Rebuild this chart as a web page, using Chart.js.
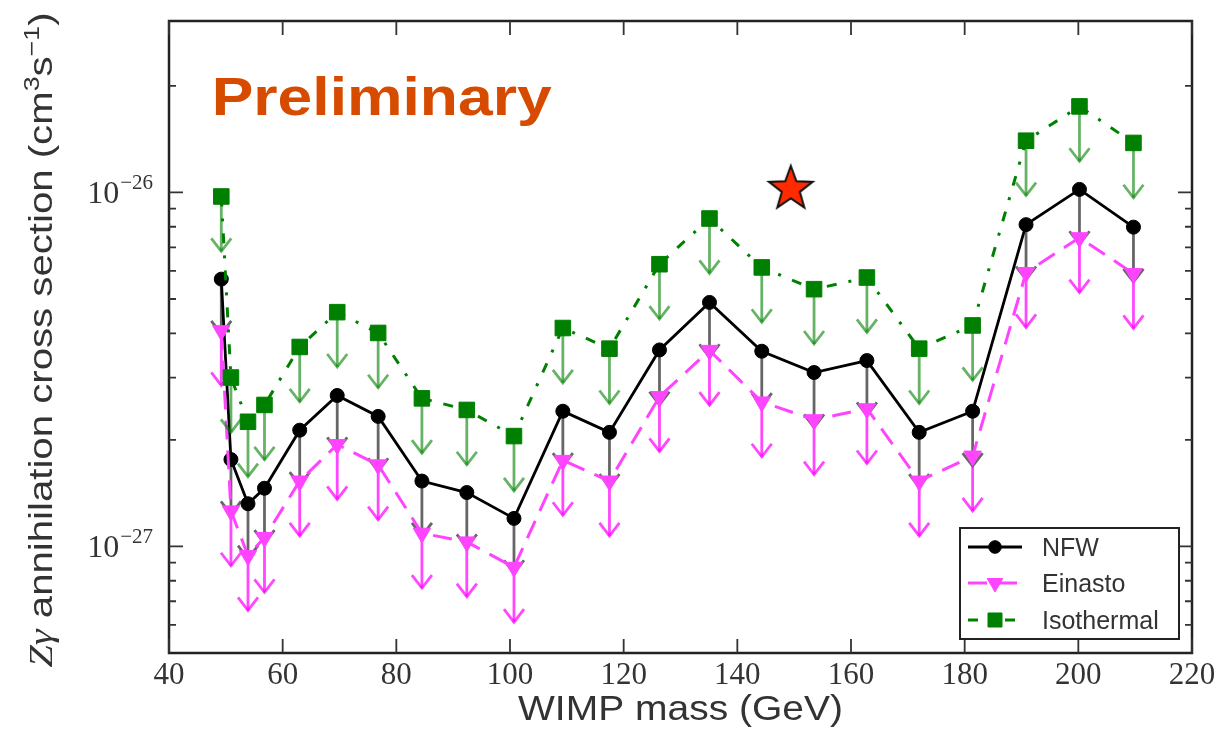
<!DOCTYPE html>
<html>
<head>
<meta charset="utf-8">
<script src="https://cdn.jsdelivr.net/npm/chart.js@4.4.0/dist/chart.umd.min.js"></script>
<style>
  html, body { margin: 0; padding: 0; background: #fff; }
  #wrap { width: 1214px; height: 732px; }
</style>
</head>
<body>
<div id="wrap"><canvas id="c" width="1214" height="732"></canvas></div>
<script>
// podaci ocitani sa slike
const mase = [49.2, 50.9, 53.9, 56.8, 63.0, 69.6, 76.8, 84.5, 92.4, 100.7, 109.3, 117.5,
  126.3, 135.1, 144.3, 153.5, 162.8, 172.0, 181.4, 190.8, 200.2, 209.7];
const nfw = [5.69e-27, 1.76e-27, 1.32e-27, 1.46e-27, 2.13e-27, 2.67e-27, 2.33e-27, 1.53e-27,
  1.42e-27, 1.20e-27, 2.41e-27, 2.10e-27, 3.59e-27, 4.89e-27, 3.56e-27, 3.10e-27, 3.35e-27,
  2.10e-27, 2.41e-27, 8.11e-27, 1.02e-26, 7.98e-27];
const einasto = [4.07e-27, 1.26e-27, 9.42e-28, 1.06e-27, 1.53e-27, 1.94e-27, 1.70e-27, 1.09e-27,
  1.03e-27, 8.73e-28, 1.75e-27, 1.53e-27, 2.65e-27, 3.58e-27, 2.56e-27, 2.28e-27, 2.45e-27,
  1.53e-27, 1.80e-27, 5.94e-27, 7.45e-27, 5.90e-27];
const isothermal = [9.74e-27, 3.00e-27, 2.25e-27, 2.51e-27, 3.66e-27, 4.59e-27, 4.01e-27, 2.62e-27,
  2.43e-27, 2.05e-27, 4.14e-27, 3.62e-27, 6.27e-27, 8.44e-27, 6.14e-27, 5.33e-27, 5.75e-27,
  3.62e-27, 4.21e-27, 1.40e-26, 1.75e-26, 1.38e-26];
const zvijezda = [{ x: 149.4, y: 1.03e-26 }];

// oznake osi
const xTicks = [40, 60, 80, 100, 120, 140, 160, 180, 200, 220];
const yMajor = [1e-27, 1e-26];
const yMajorExp = ["\u221227", "\u221226"];
const yMinor = [6e-28, 7e-28, 8e-28, 9e-28, 2e-27, 3e-27, 4e-27, 5e-27, 6e-27, 7e-27, 8e-27, 9e-27, 2e-26];

const SANS = "'Liberation Sans', Arial, sans-serif";
const SERIF = "'Liberation Serif', 'DejaVu Serif', serif";
const FAKTOR_STRELICE = 0.7; // duzina strelice gornje granice

function tacke(vrijednosti) {
  return mase.map((m, i) => ({ x: m, y: vrijednosti[i] }));
}

// zvijezda kao slika za pointStyle
let zv = document.createElement("canvas");
zv.width = 52; zv.height = 52;
(function () {
  let c = zv.getContext("2d");
  c.beginPath();
  for (let k = 0; k < 10; k++) {
    let r = k % 2 === 0 ? 23 : 9.5;
    let a = -Math.PI / 2 + k * Math.PI / 5;
    let px = 26 + r * Math.cos(a), py = 27 + r * Math.sin(a);
    if (k === 0) c.moveTo(px, py); else c.lineTo(px, py);
  }
  c.closePath();
  c.fillStyle = "#ff2a00";
  c.fill();
  c.lineWidth = 2;
  c.strokeStyle = "#111";
  c.stroke();
})();

function strelica(ctx, x, y1, y2) {
  ctx.beginPath();
  ctx.moveTo(x, y1);
  ctx.lineTo(x, y2);
  ctx.stroke();
  ctx.beginPath();
  ctx.moveTo(x - 10, y2 - 13);
  ctx.lineTo(x, y2);
  ctx.lineTo(x + 10, y2 - 13);
  ctx.stroke();
}

function tekstRastegnut(ctx, tekst, x, y, sirina, poravnanje) {
  let w = ctx.measureText(tekst).width;
  let s = sirina / w;
  ctx.save();
  ctx.translate(x, y);
  ctx.scale(s, 1);
  ctx.textAlign = poravnanje;
  ctx.fillText(tekst, 0, 0);
  ctx.restore();
}

const dodaci = {
  id: "dodaci",
  beforeDatasetDraw(chart, args) {
    let ds = chart.data.datasets[args.index];
    if (!ds.strelica) return;
    let ctx = chart.ctx, a = chart.chartArea, y = chart.scales.y;
    ctx.save();
    ctx.beginPath();
    ctx.rect(a.left, a.top, a.right - a.left, a.bottom - a.top);
    ctx.clip();
    ctx.strokeStyle = ds.strelica;
    ctx.lineWidth = 2.8;
    ctx.setLineDash([]);
    args.meta.data.forEach((el, i) => {
      let y2 = y.getPixelForValue(ds.data[i].y * FAKTOR_STRELICE);
      strelica(ctx, el.x, el.y, y2);
    });
    ctx.restore();
  },
  afterDraw(chart) {
    let ctx = chart.ctx, a = chart.chartArea;
    let xs = chart.scales.x, ys = chart.scales.y;
    ctx.save();
    ctx.setLineDash([]);

    // okvir
    ctx.strokeStyle = "#222";
    ctx.lineWidth = 2.5;
    ctx.strokeRect(a.left, a.top, a.right - a.left, a.bottom - a.top);

    // crtice prema unutra
    ctx.lineWidth = 1.8;
    ctx.strokeStyle = "#333";
    ctx.beginPath();
    xTicks.forEach((t) => {
      let px = xs.getPixelForValue(t);
      ctx.moveTo(px, a.bottom); ctx.lineTo(px, a.bottom - 14);
      ctx.moveTo(px, a.top); ctx.lineTo(px, a.top + 14);
    });
    yMajor.forEach((t) => {
      let py = ys.getPixelForValue(t);
      ctx.moveTo(a.left, py); ctx.lineTo(a.left + 14, py);
      ctx.moveTo(a.right, py); ctx.lineTo(a.right - 14, py);
    });
    yMinor.forEach((t) => {
      let py = ys.getPixelForValue(t);
      ctx.moveTo(a.left, py); ctx.lineTo(a.left + 7, py);
      ctx.moveTo(a.right, py); ctx.lineTo(a.right - 7, py);
    });
    ctx.stroke();

    // oznake x osi
    ctx.fillStyle = "#333";
    ctx.font = "31px " + SERIF;
    ctx.textAlign = "center";
    ctx.textBaseline = "alphabetic";
    xTicks.forEach((t) => {
      ctx.fillText(String(t), xs.getPixelForValue(t), 684);
    });

    // oznake y osi (10 na potenciju)
    yMajor.forEach((t, i) => {
      let py = ys.getPixelForValue(t);
      ctx.font = "21px " + SERIF;
      ctx.textAlign = "right";
      let ws = ctx.measureText(yMajorExp[i]).width;
      ctx.fillText(yMajorExp[i], 153, py - 3);
      ctx.font = "32px " + SERIF;
      ctx.fillText("10", 153 - ws - 1, py + 11);
    });

    // naslov x osi
    ctx.font = "35px " + SANS;
    tekstRastegnut(ctx, "WIMP mass (GeV)", (a.left + a.right) / 2, 720, 325, "center");

    // naslov y osi, rotiran
    let dijelovi = [
      { t: "Z", f: "italic 33px " + SERIF, dy: 0 },
      { t: "\u03b3", f: "italic 33px " + SERIF, dy: 0 },
      { t: " annihilation cross section (cm", f: "33px " + SANS, dy: 0 },
      { t: "3", f: "22px " + SANS, dy: -13 },
      { t: "s", f: "33px " + SANS, dy: 0 },
      { t: "\u22121", f: "22px " + SANS, dy: -13 },
      { t: ")", f: "33px " + SANS, dy: 0 },
    ];
    let ukupno = 0;
    dijelovi.forEach((d) => { ctx.font = d.f; d.w = ctx.measureText(d.t).width; ukupno += d.w; });
    let s = 655 / ukupno;
    ctx.save();
    ctx.translate(52, 340);
    ctx.rotate(-Math.PI / 2);
    ctx.scale(s, 1);
    ctx.textAlign = "left";
    let pos = -ukupno / 2;
    dijelovi.forEach((d) => {
      ctx.font = d.f;
      ctx.fillText(d.t, pos, d.dy);
      pos += d.w;
    });
    ctx.restore();

    // legenda
    ctx.fillStyle = "#fff";
    ctx.fillRect(960, 528, 219, 111);
    ctx.strokeStyle = "#222";
    ctx.lineWidth = 2;
    ctx.strokeRect(960, 528, 219, 111);
    let redovi = [547, 583, 620];
    chart.data.datasets.forEach((ds) => {
      if (ds.red === undefined) return;
      let ly = redovi[ds.red];
      ctx.save();
      ctx.strokeStyle = ds.borderColor;
      ctx.lineWidth = ds.borderWidth;
      ctx.setLineDash(ds.borderDash || []);
      ctx.beginPath();
      ctx.moveTo(968, ly);
      ctx.lineTo(1022, ly);
      ctx.stroke();
      ctx.setLineDash([]);
      ctx.fillStyle = ds.pointBackgroundColor || ds.borderColor;
      ctx.strokeStyle = ds.borderColor;
      ctx.lineWidth = 1;
      Chart.helpers.drawPoint(ctx, {
        pointStyle: ds.pointStyle,
        radius: ds.pointRadius * 0.9,
        rotation: ds.pointRotation || 0,
        borderWidth: 1,
      }, 995, ly);
      ctx.restore();
      ctx.fillStyle = "#333";
      ctx.font = "25px " + SANS;
      ctx.textAlign = "left";
      ctx.fillText(ds.label, 1042, ly + 9);
    });

    // natpis
    ctx.fillStyle = "#d64b00";
    ctx.font = "bold 53px " + SANS;
    tekstRastegnut(ctx, "Preliminary", 211.7, 115, 340, "left");

    ctx.restore();
  },
};

new Chart(document.getElementById("c"), {
  type: "line",
  data: {
    datasets: [
      {
        label: "NFW",
        data: tacke(nfw),
        borderColor: "#000",
        backgroundColor: "#000",
        pointBackgroundColor: "#000",
        borderWidth: 2.8,
        pointRadius: 7,
        pointBorderWidth: 1,
        pointStyle: "circle",
        strelica: "rgba(0,0,0,0.6)",
        red: 0,
        order: 3,
      },
      {
        label: "Einasto",
        data: tacke(einasto),
        borderColor: "#ff44ff",
        backgroundColor: "#ff44ff",
        pointBackgroundColor: "#ff44ff",
        borderWidth: 3,
        borderDash: [19, 11],
        pointRadius: 10,
        pointBorderWidth: 1,
        pointStyle: "triangle",
        pointRotation: 180,
        strelica: "rgba(255,0,255,0.72)",
        red: 1,
        order: 2,
      },
      {
        label: "Isothermal",
        data: tacke(isothermal),
        borderColor: "#008000",
        backgroundColor: "#008000",
        pointBackgroundColor: "#008000",
        borderWidth: 3,
        borderDash: [10, 12, 3, 12],
        pointRadius: 11,
        pointBorderWidth: 1,
        pointStyle: "rect",
        strelica: "rgba(0,128,0,0.6)",
        red: 2,
        order: 1,
      },
      {
        label: "zvijezda",
        data: zvijezda,
        showLine: false,
        pointStyle: zv,
        pointRadius: 20,
        order: 0,
      },
    ],
  },
  options: {
    responsive: false,
    animation: false,
    layout: { padding: { left: 169, right: 22, top: 15, bottom: 79 } },
    plugins: { legend: { display: false }, tooltip: { enabled: false } },
    scales: {
      x: { type: "linear", min: 40, max: 220, display: false },
      y: { type: "logarithmic", min: 5e-28, max: 3.05e-26, display: false },
    },
  },
  plugins: [dodaci],
});
</script>
</body>
</html>
